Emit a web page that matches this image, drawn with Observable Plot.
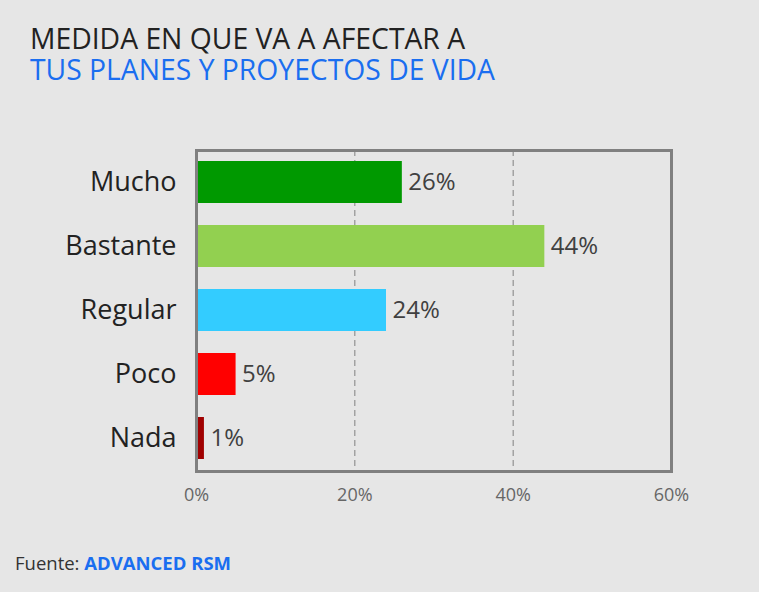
<!DOCTYPE html>
<html><head><meta charset="utf-8">
<script src="https://cdn.jsdelivr.net/npm/d3@7"></script>
<script src="https://cdn.jsdelivr.net/npm/@observablehq/plot@0.6"></script>
<style>
html,body{margin:0;padding:0;background:#e6e6e6;width:759px;height:592px;overflow:hidden;font-family:"Open Sans",sans-serif;}
.t{position:absolute;left:30px;font-size:28.3px;line-height:27px;height:27px;color:#222;white-space:nowrap}
#t1{top:25px}
#t2{top:56px;color:#1a6ef0}
#chart{position:absolute;left:0;top:100px}
#f{position:absolute;left:15px;top:550px;font-size:18.5px;color:#333}
#f b{color:#1a6ef0}
</style></head><body>
<div class="t" id="t1">MEDIDA EN QUE VA A AFECTAR A</div>
<div class="t" id="t2">TUS PLANES Y PROYECTOS DE VIDA</div>
<div id="chart"></div>
<div id="f">Fuente: <b>ADVANCED RSM</b></div>
<script>
const categories = ["Mucho","Bastante","Regular","Poco","Nada"];
const values = [26, 44, 24, 5, 1];
const colors = ["#009900","#92d050","#33ccff","#ff0000","#a00000"];
const xTicks = [0, 20, 40, 60];
const gridTicks = [20, 40];
const data = categories.map((c,i)=>({cat:c, v:values[i]}));
const plot = Plot.plot({
  width: 759, height: 420,
  marginLeft: 196, marginRight: 88, marginTop: 50, marginBottom: 49,
  style: {background: "transparent", fontFamily: "'Open Sans', sans-serif"},
  x: {domain: [0, 60], ticks: xTicks, tickFormat: d => d + "%"},
  y: {domain: categories, paddingInner: 0.34, paddingOuter: 0.17},
  color: {domain: categories, range: colors},
  marks: [
    Plot.ruleX(gridTicks, {stroke: "#808080", strokeDasharray: "6,4", strokeWidth: 1}),
    Plot.barX(data, {y: "cat", x: "v", fill: "cat"}),
    Plot.text(data, {y: "cat", x: "v", text: d => d.v + "%", textAnchor: "start", dx: 6, fontSize: 24, fill: "#404040"}),
    Plot.frame({stroke: "#808080", strokeWidth: 3}),
    Plot.axisX({ticks: xTicks, tickFormat: d => d + "%", tickSize: 0, tickPadding: 17, fontSize: 18, color: "#666", label: null}),
    Plot.axisY({tickSize: 0, tickPadding: 20, fontSize: 27, color: "#222", label: null})
  ]
});
document.getElementById("chart").appendChild(plot);
</script>
</body></html>
